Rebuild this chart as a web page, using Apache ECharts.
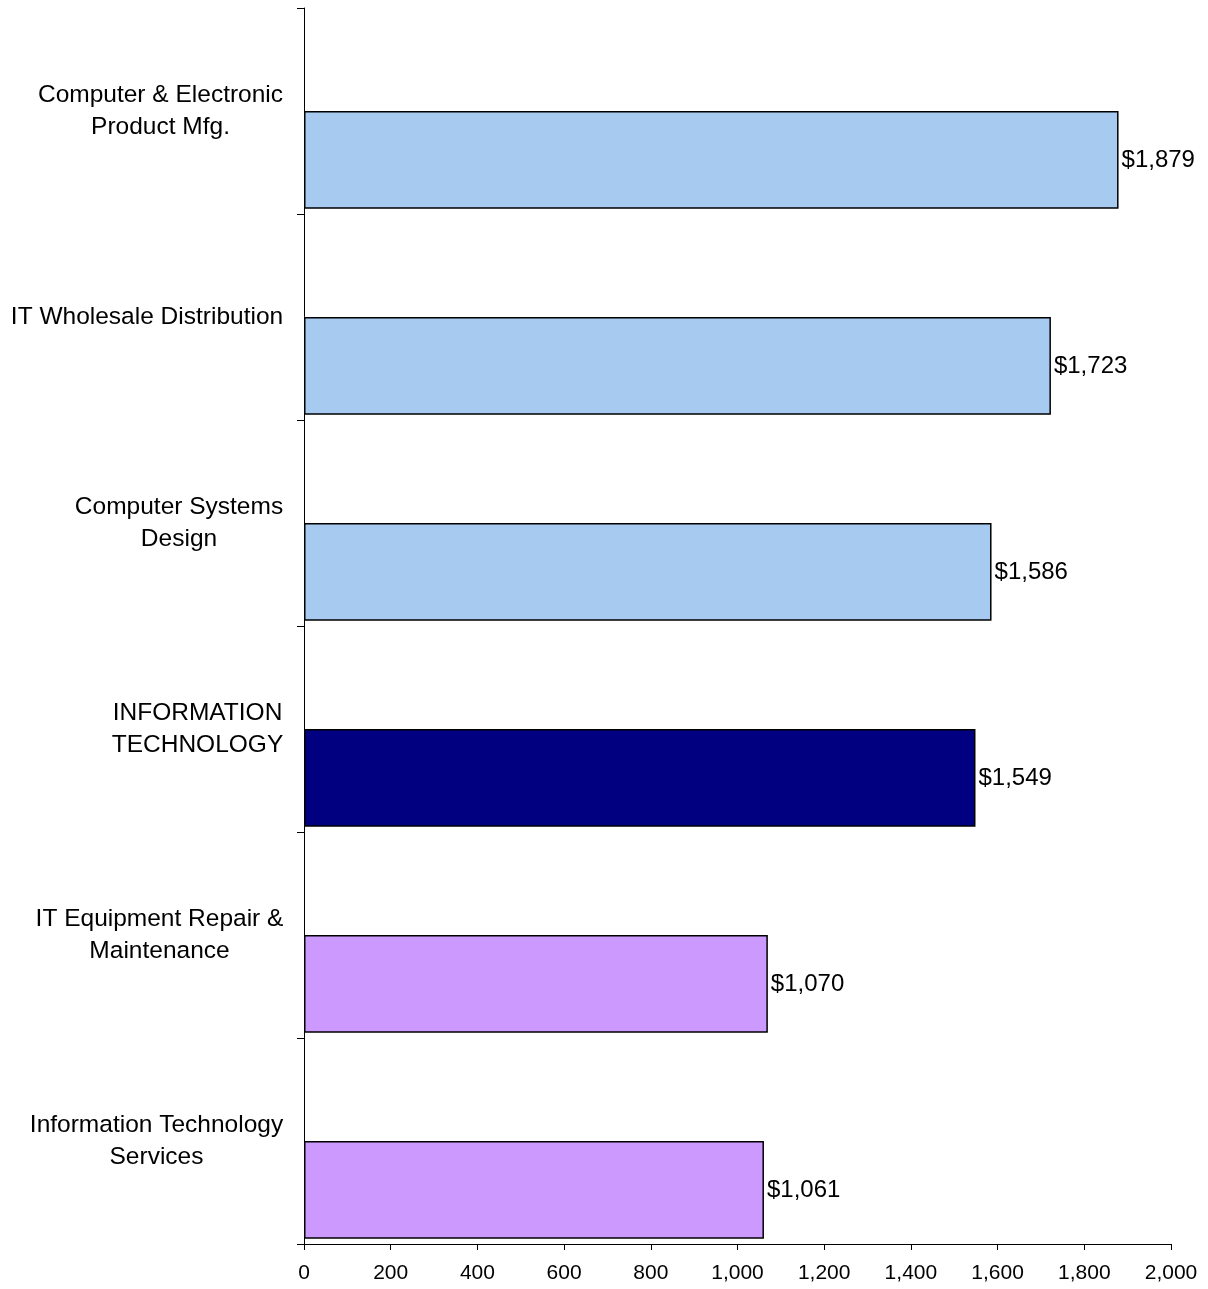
<!DOCTYPE html>
<html>
<head>
<meta charset="utf-8">
<script src="https://cdn.jsdelivr.net/npm/echarts@6/dist/echarts.min.js"></script>
<style>html,body{margin:0;padding:0;background:#fff}#chart{width:1208px;height:1289px}</style>
</head>
<body>
<div id="chart"></div>
<script>
const categories = [
  "Computer & Electronic\nProduct Mfg.",
  "IT Wholesale Distribution",
  "Computer Systems\nDesign",
  "INFORMATION\nTECHNOLOGY",
  "IT Equipment Repair &\nMaintenance",
  "Information Technology\nServices"
];
const values = [1879, 1723, 1586, 1549, 1070, 1061];
const barColors = ["#A6CAF0", "#A6CAF0", "#A6CAF0", "#000080", "#CC99FF", "#CC99FF"];
const xTicks = { min: 0, max: 2000, interval: 200 };

const FONT = "Liberation Sans, Arial, sans-serif";
const CAT_SIZE = 24.5;
const ctx = document.createElement("canvas").getContext("2d");
ctx.font = CAT_SIZE + "px " + FONT;
const rich = {};
categories.forEach((c, i) => {
  const w = Math.max(...c.split("\n").map(s => ctx.measureText(s).width));
  rich["c" + i] = { width: Math.ceil(w) + 1, align: "center", fontSize: CAT_SIZE, fontFamily: FONT, color: "#000", lineHeight: 32 };
});

const chart = echarts.init(document.getElementById("chart"), null, { renderer: "canvas" });
chart.setOption({
  animation: false,
  backgroundColor: "#fff",
  grid: { left: 304, right: 37, top: 8, bottom: 45, containLabel: false },
  xAxis: {
    type: "value", min: xTicks.min, max: xTicks.max, interval: xTicks.interval,
    splitLine: { show: false },
    axisLine: { show: true, lineStyle: { color: "#000", width: 1 } },
    axisTick: { show: true, length: 6, lineStyle: { color: "#000" } },
    axisLabel: {
      color: "#000", fontSize: 21, fontFamily: FONT, margin: 19,
      formatter: v => v.toLocaleString("en-US")
    }
  },
  yAxis: {
    type: "category", data: categories, inverse: true,
    axisLine: { show: true, lineStyle: { color: "#000", width: 1 } },
    axisTick: { show: true, length: 7, lineStyle: { color: "#000" } },
    axisLabel: {
      margin: 20, align: "right",
      formatter: (v, i) => v.split("\n").map(s => "{c" + i + "|" + s + "}").join("\n"),
      rich: rich
    }
  },
  series: [
    {
      type: "bar",
      data: values.map(() => null),
      barGap: "0%", barCategoryGap: "5%"
    },
    {
      type: "bar",
      data: values.map((v, i) => ({ value: v, itemStyle: { color: barColors[i] } })),
      barGap: "0%", barCategoryGap: "5%",
      itemStyle: { borderColor: "#000", borderWidth: 1.5 },
      label: {
        show: true, position: "right", distance: 3, color: "#000",
        fontSize: 24, fontFamily: FONT,
        formatter: p => "$" + p.value.toLocaleString("en-US")
      }
    }
  ]
});
</script>
</body>
</html>
